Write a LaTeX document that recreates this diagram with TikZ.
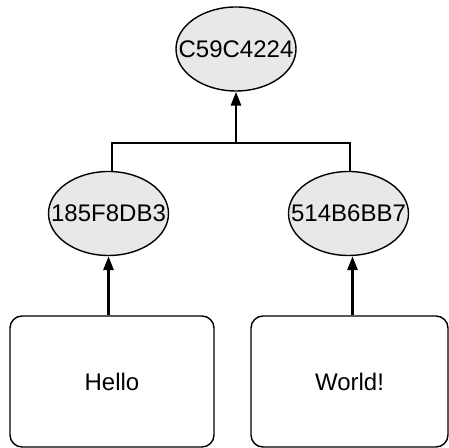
\documentclass[tikz,border=0pt]{standalone}
\usepackage{fontspec}
\setmainfont{Liberation Sans}
\usepackage{xcolor}
\usepackage{tikz}
\usetikzlibrary{positioning,calc,shapes.geometric,arrows.meta}
\definecolor{HashGray}{RGB}{232,232,232}
\tikzset{
    hashnode/.style={ellipse, draw=black, fill=HashGray, line width=0.7pt, minimum width=60pt, minimum height=42pt, inner sep=0pt, font=\fontsize{12}{14}\selectfont},
    datanode/.style={rectangle, rounded corners=6pt, draw=black, fill=white, line width=0.7pt, inner sep=0pt, font=\fontsize{12}{14}\selectfont},
    hashlink/.style={draw=black, line width=1.4pt},
    hasharrow/.style={hashlink, -{Triangle[length=7pt,width=5pt]}}
}
\newcommand{\hashtext}[1]{\makebox[0pt]{#1}}

\begin{document}
\begin{tikzpicture}[x=0.5pt, y=0.5pt]
    \useasboundingbox (0,0) rectangle (449,448);
    % Hash goc
    \node[hashnode] (root) at (236,399) {\hashtext{C59C4224}};
    % Hash cua hai khoi du lieu
    \node[hashnode] (hashL) at (108.5,234.5) {\hashtext{185F8DB3}};
    \node[hashnode] (hashR) at (348.5,234.5) {\hashtext{514B6BB7}};
    % Khoi du lieu
    \node[datanode, minimum width=102pt, minimum height=65.5pt] (dataL) at (112,66.5) {Hello};
    \node[datanode, minimum width=98.5pt, minimum height=65.5pt] (dataR) at (349.5,66.5) {World!};
    % Noi hai hash con len hash goc
    \coordinate (join) at (root.south |- 0,305);
    \draw[hashlink] ($(hashL.north)+(3.5,0)$) |- (join) -| ($(hashR.north)+(1.5,0)$);
    \draw[hasharrow] (join) -- (root.south);
    % Noi du lieu len hash
    \draw[hasharrow] (dataL.north -| hashL.south) -- (hashL.south);
    \draw[hasharrow] ($(dataR.north -| hashR.south)+(4,0)$) -- ($(hashR.south)+(4,0)$);
\end{tikzpicture}
\end{document}
